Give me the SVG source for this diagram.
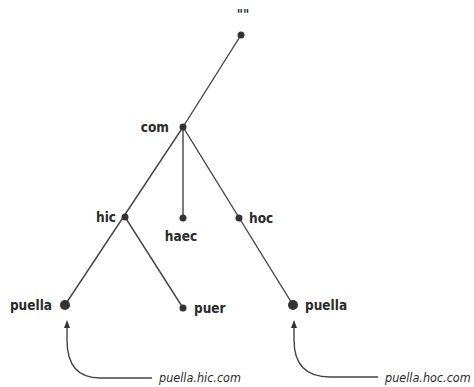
<svg xmlns="http://www.w3.org/2000/svg" width="474" height="387" viewBox="0 0 474 387">
<style>
.lbl{font-family:"DejaVu Sans Condensed","Liberation Sans Narrow","Liberation Sans",sans-serif;font-weight:bold;font-size:13.5px;fill:#2a2a2a}
.url{font-family:"DejaVu Sans Condensed","Liberation Sans Narrow","Liberation Sans",sans-serif;font-style:italic;font-size:12.5px;fill:#2a2a2a}
.edge{stroke:#444;stroke-width:1.4;fill:none}
.dot{fill:#333}
</style>
<defs>
<marker id="ah" markerWidth="8" markerHeight="6" refX="4" refY="3" orient="auto" markerUnits="userSpaceOnUse">
<path d="M0,0 L8,3 L0,6 Z" fill="#333"/>
</marker>
</defs>
<rect width="474" height="387" fill="#fff"/>
<g id="connectors">
<line class="edge" x1="241" y1="35" x2="183" y2="127"/>
<line class="edge" x1="183" y1="127" x2="65" y2="305"/>
<line class="edge" x1="183" y1="127" x2="183" y2="218"/>
<line class="edge" x1="183" y1="127" x2="293" y2="305"/>
<line class="edge" x1="125" y1="217" x2="183" y2="308"/>
<path class="edge" d="M152,378 L100,378 Q67,378 67,340 L67,324" marker-end="url(#ah)"/>
<path class="edge" d="M378,377 L330,377 Q294,377 294,340 L294,324" marker-end="url(#ah)"/>
</g>
<g id="root"><circle class="dot" cx="241" cy="35" r="3.5"/><text class="lbl" x="243" y="19" text-anchor="middle" font-style="italic" font-size="16">""</text></g>
<g id="com"><circle class="dot" cx="183" cy="127" r="3.5"/><text class="lbl" x="169" y="132" text-anchor="end">com</text></g>
<g id="hic"><circle class="dot" cx="125" cy="217" r="3.5"/><text class="lbl" x="116" y="222" text-anchor="end">hic</text></g>
<g id="haec"><circle class="dot" cx="183" cy="218" r="3.5"/><text class="lbl" x="181" y="241" text-anchor="middle">haec</text></g>
<g id="hoc"><circle class="dot" cx="239" cy="218" r="3.5"/><text class="lbl" x="249" y="223">hoc</text></g>
<g id="puella1"><circle class="dot" cx="65" cy="305" r="5"/><text class="lbl" x="52" y="310" text-anchor="end">puella</text></g>
<g id="puer"><circle class="dot" cx="183" cy="308" r="3.5"/><text class="lbl" x="194" y="313">puer</text></g>
<g id="puella2"><circle class="dot" cx="293" cy="305" r="5"/><text class="lbl" x="305" y="310">puella</text></g>
<g id="url1"><text class="url" x="159" y="382">puella.hic.com</text></g>
<g id="url2"><text class="url" x="385" y="382">puella.hoc.com</text></g>
</svg>
